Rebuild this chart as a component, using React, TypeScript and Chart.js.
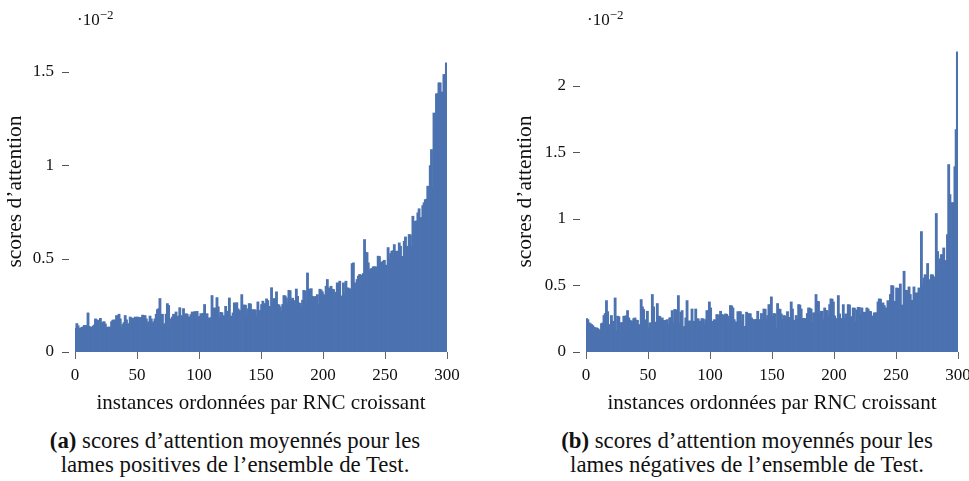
import React, { useEffect, useRef } from "react";
import { Chart, registerables } from "chart.js";

Chart.register(...registerables);

// ---------- data (values in units of 10^-2) ----------
const X_TICKS = [0, 50, 100, 150, 200, 250, 300];
const Y_TICKS_POS = [0, 0.5, 1, 1.5];
const Y_TICKS_NEG = [0, 0.5, 1, 1.5, 2];
const X_TITLE = "instances ordonnées par RNC croissant";
const Y_TITLE = "scores d’attention";

const POS_SCORES = [
  0.125, 0.15, 0.138, 0.125, 0.122, 0.13, 0.132, 0.14, 0.138, 0.14,
  0.207, 0.135, 0.128, 0.13, 0.136, 0.142, 0.175, 0.17, 0.165, 0.168,
  0.178, 0.15, 0.158, 0.16, 0.148, 0.13, 0.13, 0.132, 0.128, 0.16,
  0.168, 0.17, 0.165, 0.193, 0.185, 0.2, 0.175, 0.13, 0.145, 0.155,
  0.193, 0.17, 0.145, 0.15, 0.185, 0.18, 0.178, 0.175, 0.185, 0.183,
  0.185, 0.15, 0.183, 0.18, 0.195, 0.19, 0.193, 0.175, 0.15, 0.16,
  0.19, 0.175, 0.15, 0.16, 0.175, 0.2, 0.225, 0.23, 0.284, 0.185,
  0.2, 0.14, 0.15, 0.2, 0.257, 0.247, 0.122, 0.175, 0.185, 0.2,
  0.178, 0.212, 0.185, 0.19, 0.235, 0.193, 0.185, 0.23, 0.195, 0.203,
  0.2, 0.186, 0.184, 0.198, 0.212, 0.21, 0.214, 0.212, 0.215, 0.186,
  0.188, 0.203, 0.2, 0.205, 0.252, 0.168, 0.203, 0.18, 0.178, 0.182,
  0.3, 0.23, 0.234, 0.228, 0.289, 0.24, 0.18, 0.21, 0.208, 0.19,
  0.192, 0.242, 0.216, 0.214, 0.287, 0.19, 0.188, 0.207, 0.261, 0.258,
  0.262, 0.229, 0.221, 0.218, 0.305, 0.207, 0.25, 0.248, 0.193, 0.229,
  0.257, 0.255, 0.225, 0.19, 0.225, 0.222, 0.19, 0.266, 0.221, 0.219,
  0.252, 0.27, 0.257, 0.255, 0.282, 0.273, 0.242, 0.24, 0.342, 0.261,
  0.284, 0.282, 0.32, 0.252, 0.25, 0.239, 0.216, 0.252, 0.3, 0.298,
  0.287, 0.259, 0.328, 0.326, 0.278, 0.286, 0.273, 0.27, 0.335, 0.296,
  0.261, 0.258, 0.239, 0.275, 0.328, 0.325, 0.261, 0.421, 0.335, 0.33,
  0.337, 0.296, 0.294, 0.243, 0.296, 0.305, 0.252, 0.334, 0.33, 0.32,
  0.305, 0.252, 0.35, 0.386, 0.341, 0.329, 0.35, 0.334, 0.332, 0.29,
  0.318, 0.368, 0.366, 0.377, 0.296, 0.298, 0.368, 0.309, 0.377, 0.341,
  0.34, 0.334, 0.336, 0.471, 0.475, 0.366, 0.368, 0.386, 0.404, 0.413,
  0.41, 0.359, 0.418, 0.6, 0.532, 0.53, 0.475, 0.43, 0.443, 0.445,
  0.454, 0.454, 0.454, 0.371, 0.511, 0.509, 0.479, 0.396, 0.484, 0.489,
  0.461, 0.463, 0.557, 0.496, 0.525, 0.538, 0.54, 0.573, 0.538, 0.536,
  0.538, 0.582, 0.564, 0.507, 0.51, 0.591, 0.614, 0.564, 0.552, 0.627,
  0.625, 0.564, 0.725, 0.659, 0.698, 0.7, 0.743, 0.765, 0.716, 0.718,
  0.782, 0.797, 0.814, 0.816, 0.886, 0.814, 0.996, 1.082, 0.88, 1.278,
  1.221, 1.38, 1.382, 1.44, 1.44, 1.39, 1.39, 1.483, 1.485, 1.546,
];

const NEG_SCORES = [
  0.248, 0.24, 0.216, 0.21, 0.203, 0.195, 0.183, 0.178, 0.178, 0.173,
  0.145, 0.165, 0.21, 0.215, 0.271, 0.286, 0.383, 0.3, 0.178, 0.203,
  0.271, 0.228, 0.225, 0.403, 0.158, 0.266, 0.262, 0.216, 0.216, 0.218,
  0.266, 0.266, 0.268, 0.308, 0.253, 0.236, 0.228, 0.23, 0.248, 0.253,
  0.236, 0.235, 0.203, 0.178, 0.391, 0.336, 0.316, 0.236, 0.238, 0.303,
  0.178, 0.216, 0.214, 0.429, 0.336, 0.221, 0.22, 0.361, 0.266, 0.264,
  0.228, 0.253, 0.233, 0.233, 0.235, 0.24, 0.203, 0.253, 0.255, 0.308,
  0.216, 0.316, 0.314, 0.216, 0.421, 0.216, 0.296, 0.308, 0.186, 0.188,
  0.253, 0.383, 0.228, 0.23, 0.228, 0.32, 0.228, 0.226, 0.32, 0.246,
  0.246, 0.228, 0.228, 0.248, 0.246, 0.208, 0.24, 0.308, 0.306, 0.373,
  0.328, 0.228, 0.226, 0.24, 0.233, 0.278, 0.276, 0.273, 0.303, 0.278,
  0.276, 0.266, 0.283, 0.28, 0.266, 0.208, 0.346, 0.343, 0.328, 0.24,
  0.223, 0.22, 0.3, 0.298, 0.3, 0.228, 0.278, 0.186, 0.19, 0.296,
  0.266, 0.286, 0.284, 0.253, 0.24, 0.24, 0.238, 0.242, 0.303, 0.24,
  0.238, 0.286, 0.236, 0.32, 0.318, 0.24, 0.271, 0.353, 0.35, 0.411,
  0.266, 0.286, 0.284, 0.178, 0.361, 0.32, 0.318, 0.283, 0.24, 0.271,
  0.268, 0.24, 0.3, 0.256, 0.254, 0.373, 0.32, 0.236, 0.234, 0.271,
  0.246, 0.353, 0.35, 0.32, 0.248, 0.25, 0.246, 0.248, 0.286, 0.328,
  0.326, 0.32, 0.221, 0.291, 0.29, 0.429, 0.378, 0.376, 0.278, 0.303,
  0.303, 0.241, 0.328, 0.31, 0.308, 0.268, 0.353, 0.396, 0.394, 0.373,
  0.268, 0.248, 0.246, 0.421, 0.283, 0.248, 0.246, 0.353, 0.25, 0.283,
  0.281, 0.353, 0.35, 0.258, 0.263, 0.328, 0.326, 0.223, 0.313, 0.333,
  0.331, 0.276, 0.328, 0.296, 0.294, 0.296, 0.328, 0.32, 0.303, 0.301,
  0.268, 0.263, 0.291, 0.29, 0.292, 0.373, 0.396, 0.394, 0.361, 0.366,
  0.346, 0.328, 0.326, 0.383, 0.361, 0.429, 0.496, 0.494, 0.371, 0.378,
  0.478, 0.476, 0.466, 0.508, 0.348, 0.35, 0.604, 0.461, 0.46, 0.404,
  0.486, 0.429, 0.386, 0.384, 0.486, 0.429, 0.441, 0.44, 0.478, 0.476,
  0.902, 0.503, 0.553, 0.578, 0.57, 0.662, 0.541, 0.536, 0.578, 0.576,
  0.561, 0.56, 1.038, 0.752, 0.622, 0.697, 0.729, 0.727, 0.779, 0.604,
  0.685, 0.879, 1.406, 1.18, 1.05, 1.12, 1.118, 1.39, 1.669, 2.253,
];

// ---------- styles ----------
const SERIF = "'Liberation Serif', 'Times New Roman', serif";
const BAR_COLOR = "#4C72B0";
const TEXT_COLOR = "#111";

const yTickDash = {
  id: "yTickDash",
  afterDraw(chart: any) {
    const { ctx, chartArea, scales } = chart;
    const y = scales.y;
    ctx.save();
    ctx.strokeStyle = "#555";
    ctx.lineWidth = 1;
    y.ticks.forEach((t: any) => {
      const py = Math.round(y.getPixelForValue(t.value)) + 0.5;
      ctx.beginPath();
      ctx.moveTo(chartArea.left - 13, py);
      ctx.lineTo(chartArea.left - 6, py);
      ctx.stroke();
    });
    ctx.restore();
  },
};

type PanelProps = {
  values: number[];
  yTicks: number[];
  yMax: number;
  left: number;
  width: number;
  height: number;
  yAxisWidth: number;
  padRight: number;
  padTop: number;
  labelPad: number;
};

function BarPanel(p: PanelProps) {
  const ref = useRef<HTMLCanvasElement | null>(null);
  useEffect(() => {
    if (!ref.current) return;
    const chart = new Chart(ref.current, {
      type: "bar",
      data: {
        datasets: [
          {
            data: p.values.map((v, i) => ({ x: i + 0.5, y: v })),
            backgroundColor: BAR_COLOR,
            borderWidth: 0,
            barPercentage: 1,
            categoryPercentage: 1,
            inflateAmount: 0.8,
          } as any,
        ],
      },
      options: {
        animation: false,
        responsive: false,
        maintainAspectRatio: false,
        layout: { padding: { left: 0, right: p.padRight, top: p.padTop, bottom: 0 } },
        plugins: { legend: { display: false }, tooltip: { enabled: false } },
        scales: {
          x: {
            type: "linear",
            min: 0,
            max: 300,
            offset: false,
            afterBuildTicks: (s: any) => {
              s.ticks = X_TICKS.map((v) => ({ value: v }));
            },
            afterFit: (s: any) => {
              s.height = 70;
              s.paddingLeft = 0;
              s.paddingRight = 0;
            },
            grid: {
              display: true,
              offset: false,
              drawOnChartArea: false,
              drawTicks: true,
              tickLength: 7,
              color: "#666",
              lineWidth: 1,
            },
            border: { display: false },
            ticks: {
              font: { family: SERIF, size: 17 },
              color: TEXT_COLOR,
              padding: 6,
              maxRotation: 0,
              autoSkip: false,
              callback: (v: any) => String(v),
            },
            title: {
              display: true,
              text: X_TITLE,
              font: { family: SERIF, size: 21 },
              color: TEXT_COLOR,
              padding: { top: 0, bottom: 6 },
            },
          },
          y: {
            type: "linear",
            min: 0,
            max: p.yMax,
            afterBuildTicks: (s: any) => {
              s.ticks = p.yTicks.map((v) => ({ value: v }));
            },
            afterFit: (s: any) => {
              s.width = p.yAxisWidth;
              s.paddingTop = 0;
              s.paddingBottom = 0;
            },
            grid: { display: false, drawTicks: false },
            border: { display: false },
            ticks: {
              font: { family: SERIF, size: 17 },
              color: TEXT_COLOR,
              padding: p.labelPad,
              callback: (v: any) => String(v),
            },
            title: {
              display: true,
              text: Y_TITLE,
              font: { family: SERIF, size: 21.5 },
              color: TEXT_COLOR,
              padding: { top: 2, bottom: 0 },
            },
          },
        },
      } as any,
      plugins: [yTickDash],
    });
    return () => chart.destroy();
  }, []);
  return (
    <canvas
      ref={ref}
      width={p.width}
      height={p.height}
      style={{ position: "absolute", left: p.left, top: 0, width: p.width, height: p.height }}
    />
  );
}

const scaleLabelStyle: React.CSSProperties = {
  position: "absolute",
  top: 5,
  fontFamily: SERIF,
  fontSize: 17,
  color: TEXT_COLOR,
  lineHeight: "20px",
};

const captionStyle: React.CSSProperties = {
  position: "absolute",
  top: 429,
  width: 470,
  textAlign: "center",
  fontFamily: SERIF,
  fontSize: 22.8,
  lineHeight: "24px",
  color: TEXT_COLOR,
};

export default function App() {
  return (
    <div
      style={{
        position: "fixed",
        left: 0,
        top: 0,
        width: 969,
        height: 481,
        background: "#fff",
        overflow: "hidden",
      }}
    >
      <BarPanel
        values={POS_SCORES}
        yTicks={Y_TICKS_POS}
        yMax={1.7196}
        left={0}
        width={480}
        height={422}
        yAxisWidth={75}
        padRight={33}
        padTop={31}
        labelPad={21}
      />
      <BarPanel
        values={NEG_SCORES}
        yTicks={Y_TICKS_NEG}
        yMax={2.4135}
        left={510}
        width={459}
        height={422}
        yAxisWidth={76}
        padRight={11}
        padTop={31}
        labelPad={20}
      />
      <div style={{ ...scaleLabelStyle, left: 77 }}>
        ·10<sup style={{ fontSize: 13, verticalAlign: "6px" }}>−2</sup>
      </div>
      <div style={{ ...scaleLabelStyle, left: 587 }}>
        ·10<sup style={{ fontSize: 13, verticalAlign: "6px" }}>−2</sup>
      </div>
      <div style={{ ...captionStyle, left: 0 }}>
        <b>(a)</b> scores d’attention moyennés pour les
        <br />
        lames positives de l’ensemble de Test.
      </div>
      <div style={{ ...captionStyle, left: 512 }}>
        <b>(b)</b> scores d’attention moyennés pour les
        <br />
        lames négatives de l’ensemble de Test.
      </div>
    </div>
  );
}
